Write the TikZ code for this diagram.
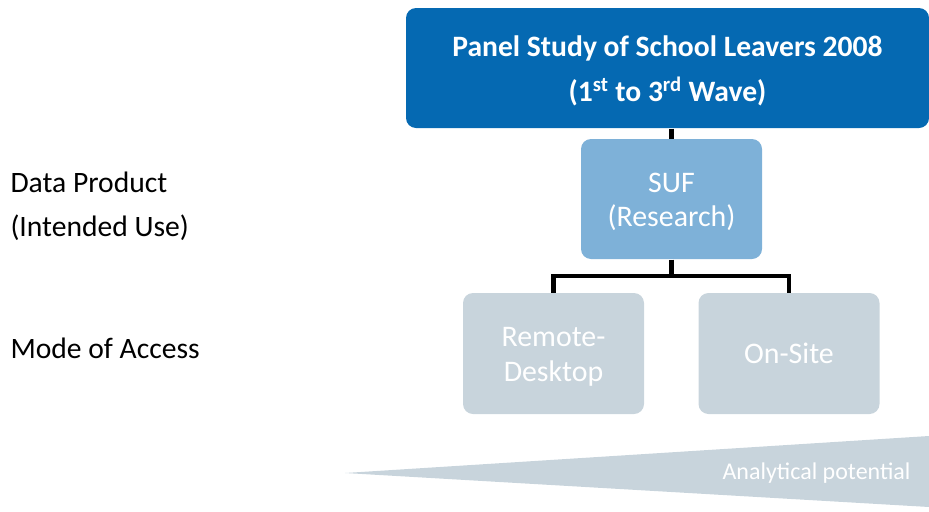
\documentclass[tikz,border=0pt]{standalone}
\usepackage{fontspec}
\setmainfont{Carlito}
\definecolor{panelblue}{HTML}{0569B2}
\definecolor{sufblue}{HTML}{7EB1D8}
\definecolor{accessgrey}{HTML}{C8D4DC}

\tikzset{every picture/.style={line width=0.75pt}}
\tikzset{
  box/.style={rounded corners=7.5pt, inner sep=0pt, minimum width=135.75pt, minimum height=90.75pt},
  boxtext/.style={inner sep=0pt, align=center, text=white},
  link/.style={line width=3.4pt, draw=black},
  rowlabel/.style={anchor=base west, inner sep=0pt, font=\fontsize{22.2}{26}\selectfont}
}

\begin{document}
\begin{tikzpicture}[x=0.75pt,y=0.75pt,yscale=-1]
\useasboundingbox (0,0) rectangle (929,511);

% Analytical potential wedge
\fill[accessgrey] (345,473) -- (929,436) -- (929,507) -- cycle;
\node (potential) [anchor=base east, inner sep=0pt, text=white, font=\fontsize{18}{21}\selectfont] at (911,479) {Analytical potential};

% Boxes
\node (panel) [box, fill=panelblue, minimum width=392.25pt, minimum height=90pt] at (667.5,68) {};
\node (suf) [box, fill=sufblue, minimum height=90pt] at (671.5,199) {};
\node (remote) [box, fill=accessgrey] at (553.5,353.5) {};
\node (onsite) [box, fill=accessgrey] at (789,353.5) {};

% Box texts
\node (paneltext) [boxtext, yshift=-2.25pt, font=\bfseries\fontsize{22.2}{33.75}\selectfont] at (panel)
  {Panel Study of School Leavers 2008\\(1\textsuperscript{st} to 3\textsuperscript{rd} Wave)};
\node (suftext) [boxtext, yshift=-2.25pt, font=\fontsize{22.4}{25.5}\selectfont] at (suf) {SUF\\(Research)};
\node (remotetext) [boxtext, yshift=-2.25pt, font=\fontsize{22.4}{26.25}\selectfont] at (remote) {Remote-\\Desktop};
\node (onsitetext) [boxtext, font=\fontsize{22.4}{26.25}\selectfont] at (onsite) {On-Site};

% Connectors
\coordinate (fork) at (671.5,276);
\draw[link] (panel.south -| suf.north) -- (suf.north);
\draw[link] (suf.south) -- (fork) -| (remote.north);
\draw[link] (fork) -| (onsite.north);

% Row labels
\node (product) [rowlabel] at (10,192) {Data Product};
\node (use) [rowlabel] at (10,236) {(Intended Use)};
\node (access) [rowlabel] at (10,358) {Mode of Access};

\end{tikzpicture}
\end{document}
